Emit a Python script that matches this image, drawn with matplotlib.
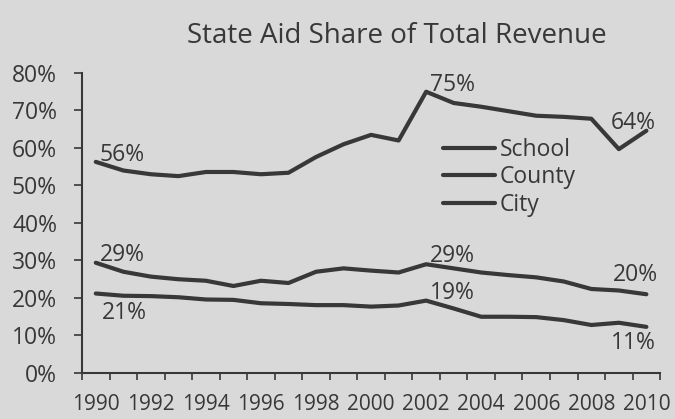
import matplotlib
matplotlib.use("Agg")
from matplotlib import pyplot as plt

years = list(range(1990, 2011))
school = [56.3, 54.0, 53.0, 52.5, 53.6, 53.6, 53.0, 53.4, 57.6, 61.0, 63.5,
          62.0, 75.0, 72.0, 71.0, 69.8, 68.6, 68.3, 67.8, 59.7, 64.6]
county = [29.4, 27.0, 25.7, 25.0, 24.6, 23.2, 24.6, 24.0, 27.0, 27.9, 27.3,
          26.8, 29.0, 27.9, 26.8, 26.1, 25.5, 24.4, 22.4, 22.0, 21.0]
city = [21.2, 20.6, 20.5, 20.2, 19.6, 19.5, 18.6, 18.4, 18.1, 18.1, 17.7,
        18.0, 19.3, 17.2, 15.0, 15.0, 14.9, 14.1, 12.8, 13.4, 12.3]
series_names = ["School", "County", "City"]

# (serie, indeks roku, tekst, przesuniecie w pikselach, ha, va)
point_labels = [
    (school, 0, "56%", (4, 1), "left", "baseline"),
    (school, 12, "75%", (4, 1), "left", "baseline"),
    (school, 20, "64%", (9, 2), "right", "baseline"),
    (county, 0, "29%", (4, 2), "left", "baseline"),
    (county, 12, "29%", (4, 2), "left", "baseline"),
    (county, 20, "20%", (12, 13), "right", "baseline"),
    (city, 0, "21%", (6, -8), "left", "top"),
    (city, 12, "19%", (4, 2), "left", "baseline"),
    (city, 20, "11%", (9, -4), "right", "top"),
]

bg = "#d9d9d9"
ink = "#383838"
fs = 16.5
plt.rcParams["font.family"] = ["Open Sans", "DejaVu Sans"]

fig = plt.figure(figsize=(6.75, 4.19), dpi=100, facecolor=bg)
ax = fig.add_axes([0.1215, 0.1098, 0.8565, 0.716], facecolor=bg)

x = list(range(len(years)))
for data, name in zip([school, county, city], series_names):
    ax.plot(x, data, color=ink, lw=3, label=name, solid_capstyle="round")

for data, i, txt, off, ha, va in point_labels:
    ax.annotate(txt, (x[i], data[i]), xytext=off, textcoords="offset pixels",
                fontsize=fs, color=ink, ha=ha, va=va)

ax.set_xlim(-0.5, len(years) - 0.5)
ax.set_ylim(0, 80)
ax.set_yticks(range(0, 81, 10))
ax.set_yticklabels([f"{v}%" for v in range(0, 81, 10)])
ax.set_xticks([i - 0.5 for i in range(len(years) + 1)])
ax.set_xticklabels([])
ax.set_xticks([i for i in x if years[i] % 2 == 0], minor=True)
ax.set_xticklabels([str(y) for y in years if y % 2 == 0], minor=True)
ax.tick_params(axis="x", which="major", length=5, width=1.2, color=ink)
ax.tick_params(axis="x", which="minor", length=0, pad=15, labelsize=15,
               labelcolor=ink)
ax.tick_params(axis="y", length=6, width=1.2, color=ink, labelsize=fs,
               labelcolor=ink, pad=12)

for side in ["top", "right"]:
    ax.spines[side].set_visible(False)
for side in ["left", "bottom"]:
    ax.spines[side].set_color(ink)
    ax.spines[side].set_linewidth(1.5)

ax.legend(loc="center left", bbox_to_anchor=(0.6246, 0.653), frameon=False,
          borderpad=0, borderaxespad=0, handlelength=37.4 / fs,
          handletextpad=0.2, labelspacing=0.15, fontsize=fs, labelcolor=ink)

fig.text(397 / 675, 1 - 36 / 419, "State Aid Share of Total Revenue",
         ha="center", va="center", fontsize=20, color=ink)

plt.savefig("out.png", dpi=100, facecolor=bg)
